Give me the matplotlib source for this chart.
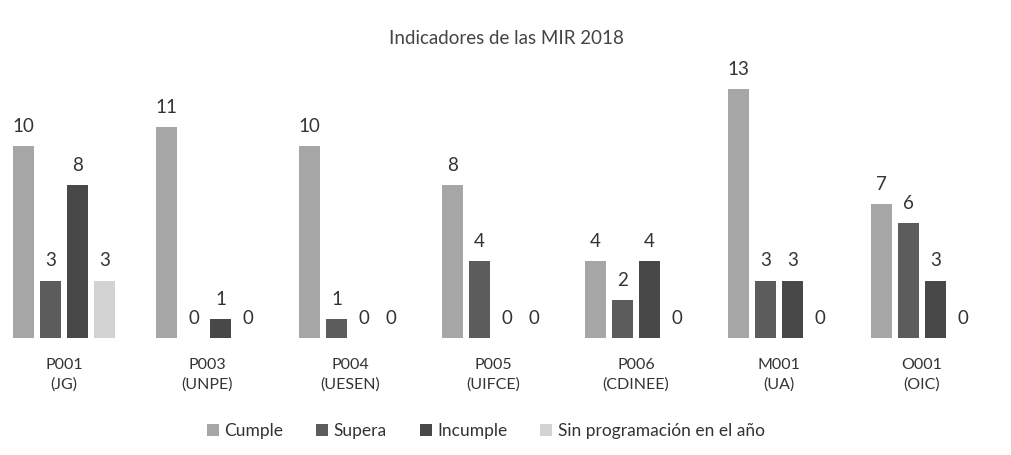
import numpy as np
import matplotlib
matplotlib.use("Agg")
import matplotlib.pyplot as plt

plt.rcParams['font.family'] = ['Lato', 'DejaVu Sans']

categories = ["P001\n(JG)", "P003\n(UNPE)", "P004\n(UESEN)", "P005\n(UIFCE)",
              "P006\n(CDINEE)", "M001\n(UA)", "O001\n(OIC)"]
series = ["Cumple", "Supera", "Incumple", "Sin programación en el año"]
cumple = [10, 11, 10, 8, 4, 13, 7]
supera = [3, 0, 1, 4, 2, 3, 6]
incumple = [8, 1, 0, 0, 4, 3, 3]
sin_prog = [3, 0, 0, 0, 0, 0, 0]
colors = ["#a6a6a6", "#5c5c5c", "#484848", "#d2d2d2"]

fig = plt.figure(figsize=(10.12, 4.55), dpi=100)
ax = fig.add_axes([0.0, 0.257, 1.0, 0.6105])

x = np.arange(len(categories))
step = 0.189
width = 0.147
data = [cumple, supera, incumple, sin_prog]
for i, (vals, name, c) in enumerate(zip(data, series, colors)):
    pos = x + (i - 1.5) * step
    bars = ax.bar(pos, vals, width, color=c, label=name)
    for b, v in zip(bars, vals):
        ax.annotate(str(v), (b.get_x() + b.get_width() / 2, v),
                    xytext=(0, 8), textcoords="offset points",
                    ha="center", va="bottom", fontsize=13.5, color="#333333")

ax.set_xlim(-0.448, 6.63)
ax.set_ylim(0, 14.5)
ax.set_xticks(x)
ax.set_xticklabels(categories, fontsize=11.5, color="#333333", linespacing=1.5)
ax.tick_params(axis="x", length=0, pad=14)
ax.set_yticks([])
for s in ax.spines.values():
    s.set_visible(False)

fig.suptitle("Indicadores de las MIR 2018", y=0.935, fontsize=13.5, color="#444444")
fig.legend(loc="lower center", bbox_to_anchor=(0.48, 0.0), ncol=4, frameon=False,
           fontsize=12.5, handlelength=0.7, handleheight=0.7, handletextpad=0.3,
           columnspacing=1.9, labelcolor="#333333")

fig.savefig("out.png", dpi=100)
